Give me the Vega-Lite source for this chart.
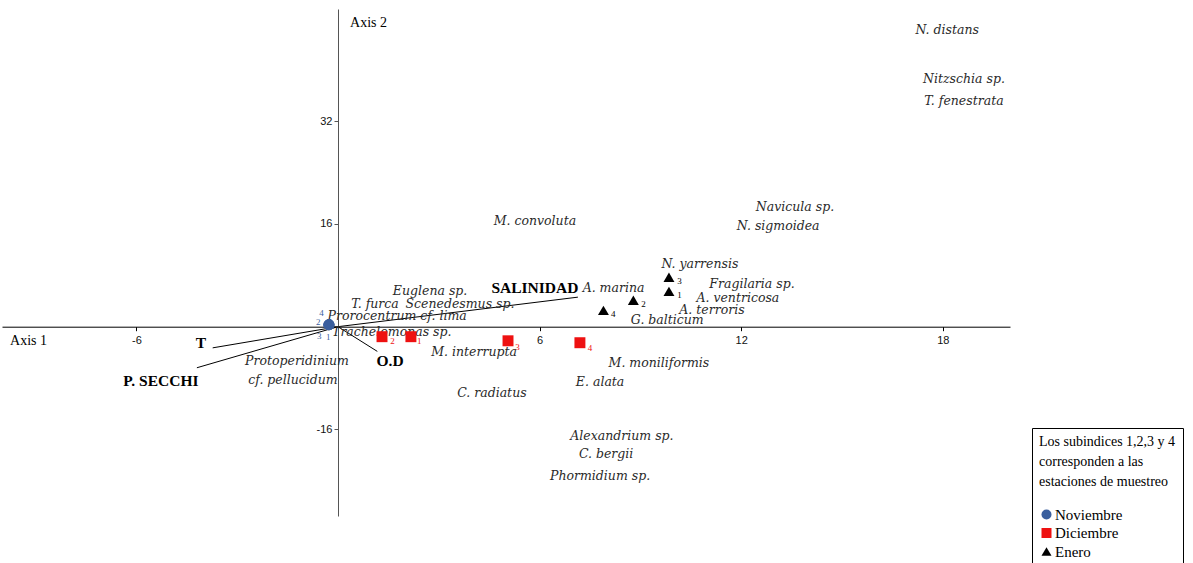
{
  "$schema": "https://vega.github.io/schema/vega-lite/v6.json",
  "width": 1008,
  "height": 507,
  "autosize": "none",
  "padding": {"left": 2, "top": 9, "right": 183, "bottom": 47},
  "background": "white",
  "config": {"view": {"stroke": null}, "font": "Liberation Serif"},
  "datasets": {
    "pts": [
      {"Mes": "Noviembre", "est": "1", "x": -0.27, "y": 0.3},
      {"Mes": "Noviembre", "est": "2", "x": -0.27, "y": 0.3},
      {"Mes": "Noviembre", "est": "3", "x": -0.27, "y": 0.3},
      {"Mes": "Noviembre", "est": "4", "x": -0.27, "y": 0.3},
      {"Mes": "Diciembre", "est": "1", "x": 2.17, "y": -1.56},
      {"Mes": "Diciembre", "est": "2", "x": 1.31, "y": -1.56},
      {"Mes": "Diciembre", "est": "3", "x": 5.06, "y": -2.2},
      {"Mes": "Diciembre", "est": "4", "x": 7.2, "y": -2.5},
      {"Mes": "Enero", "est": "1", "x": 9.85, "y": 5.5},
      {"Mes": "Enero", "est": "2", "x": 8.79, "y": 4.1},
      {"Mes": "Enero", "est": "3", "x": 9.85, "y": 7.7},
      {"Mes": "Enero", "est": "4", "x": 7.9, "y": 2.54}
    ],
    "subs": [
      {"Mes": "Noviembre", "est": "1", "x": -0.29, "y": -1.6},
      {"Mes": "Noviembre", "est": "2", "x": -0.59, "y": 0.67},
      {"Mes": "Noviembre", "est": "3", "x": -0.56, "y": -1.5},
      {"Mes": "Noviembre", "est": "4", "x": -0.49, "y": 2.13},
      {"Mes": "Diciembre", "est": "1", "x": 2.42, "y": -2.3},
      {"Mes": "Diciembre", "est": "2", "x": 1.62, "y": -2.3},
      {"Mes": "Diciembre", "est": "3", "x": 5.34, "y": -3.2},
      {"Mes": "Diciembre", "est": "4", "x": 7.5, "y": -3.4},
      {"Mes": "Enero", "est": "1", "x": 10.16, "y": 5.0},
      {"Mes": "Enero", "est": "2", "x": 9.09, "y": 3.5},
      {"Mes": "Enero", "est": "3", "x": 10.16, "y": 7.06},
      {"Mes": "Enero", "est": "4", "x": 8.19, "y": 2.0}
    ],
    "species": [
      {"name": "N. distans", "x": 18.13, "y": 46.3},
      {"name": "Nitzschia sp.", "x": 18.63, "y": 38.6},
      {"name": "T. fenestrata", "x": 18.63, "y": 35.2},
      {"name": "Navicula sp.", "x": 13.6, "y": 18.7},
      {"name": "N. sigmoidea", "x": 13.1, "y": 15.7},
      {"name": "M. convoluta", "x": 5.86, "y": 16.5},
      {"name": "N. yarrensis", "x": 10.77, "y": 9.8},
      {"name": "Fragilaria sp.", "x": 12.32, "y": 6.7},
      {"name": "A. ventricosa", "x": 11.9, "y": 4.4},
      {"name": "A. terroris", "x": 11.13, "y": 2.6},
      {"name": "G. balticum", "x": 9.8, "y": 1.1},
      {"name": "A. marina", "x": 8.2, "y": 6.1},
      {"name": "Euglena sp.", "x": 2.74, "y": 5.6},
      {"name": "T. furca", "x": 1.1, "y": 3.6},
      {"name": "Scenedesmus sp.", "x": 3.63, "y": 3.6},
      {"name": "Prorocentrum cf. lima", "x": 1.76, "y": 1.7},
      {"name": "Trachelomonas sp.", "x": 1.6, "y": -0.8},
      {"name": "M. interrupta", "x": 4.05, "y": -3.9},
      {"name": "M. moniliformis", "x": 9.55, "y": -5.6},
      {"name": "E. alata", "x": 7.8, "y": -8.6},
      {"name": "C. radiatus", "x": 4.58, "y": -10.4},
      {"name": "Alexandrium sp.", "x": 8.45, "y": -17.1},
      {"name": "C. bergii", "x": 7.98, "y": -19.8},
      {"name": "Phormidium sp.", "x": 7.8, "y": -23.2},
      {"name": "Protoperidinium", "x": -1.22, "y": -5.3},
      {"name": "cf. pellucidum", "x": -1.34, "y": -8.3}
    ],
    "arrows": [
      {"name": "SALINIDAD", "o": 0, "x": 0, "y": 0},
      {"name": "SALINIDAD", "o": 1, "x": 7.14, "y": 4.6},
      {"name": "T", "o": 0, "x": 0, "y": 0},
      {"name": "T", "o": 1, "x": -3.73, "y": -3.3},
      {"name": "P. SECCHI", "o": 0, "x": 0, "y": 0},
      {"name": "P. SECCHI", "o": 1, "x": -4.2, "y": -6.4},
      {"name": "O.D", "o": 0, "x": 0, "y": 0},
      {"name": "O.D", "o": 1, "x": 1.17, "y": -3.85}
    ],
    "env": [
      {"name": "SALINIDAD", "x": 5.86, "y": 6.1},
      {"name": "T", "x": -4.08, "y": -2.5},
      {"name": "P. SECCHI", "x": -5.27, "y": -8.4},
      {"name": "O.D", "x": 1.55, "y": -5.3}
    ],
    "axlab": [
      {"name": "Axis 1", "x": -9.76, "y": -2.3},
      {"name": "Axis 2", "x": 0.36, "y": 47.3}
    ]
  },
  "layer": [
    {
      "data": {"name": "arrows"},
      "mark": {"type": "line", "color": "#000", "strokeWidth": 1},
      "encoding": {
        "x": {"field": "x", "type": "quantitative", "scale": {"domain": [-10, 20], "nice": false, "zero": false},
          "axis": {"values": [-6, 6, 12, 18], "offset": -189.3, "title": null, "grid": false, "domainColor": "#000", "tickColor": "#000", "tickSize": 4, "labelFont": "Liberation Sans", "labelFontSize": 11, "labelColor": "#111", "labelPadding": 4, "labelExpr": "replace(datum.label, '\u2212', '-')"}},
        "y": {"field": "y", "type": "quantitative", "scale": {"domain": [-29.5, 49.5], "nice": false, "zero": false},
          "axis": {"values": [-16, 16, 32], "offset": -336, "title": null, "grid": false, "domainColor": "#555", "tickColor": "#555", "tickSize": 4, "labelFont": "Liberation Sans", "labelFontSize": 11, "labelColor": "#111", "labelPadding": 2, "labelExpr": "replace(datum.label, '\u2212', '-')"}},
        "detail": {"field": "name", "type": "nominal"},
        "order": {"field": "o", "type": "quantitative"}
      }
    },
    {
      "data": {"name": "env"},
      "mark": {"type": "text", "font": "Liberation Serif", "fontWeight": "bold", "fontSize": 15.5, "color": "#000"},
      "encoding": {
        "x": {"field": "x", "type": "quantitative"},
        "y": {"field": "y", "type": "quantitative"},
        "text": {"field": "name"}
      }
    },
    {
      "data": {"name": "species"},
      "mark": {"type": "text", "font": "DejaVu Serif", "fontStyle": "italic", "fontSize": 12.5, "color": "#2a2a2a"},
      "encoding": {
        "x": {"field": "x", "type": "quantitative"},
        "y": {"field": "y", "type": "quantitative"},
        "text": {"field": "name"}
      }
    },
    {
      "data": {"name": "axlab"},
      "mark": {"type": "text", "font": "Liberation Serif", "fontSize": 14, "color": "#000", "align": "left"},
      "encoding": {
        "x": {"field": "x", "type": "quantitative"},
        "y": {"field": "y", "type": "quantitative"},
        "text": {"field": "name"}
      }
    },
    {
      "data": {"name": "pts"},
      "mark": {"type": "point", "filled": true, "opacity": 1, "size": 120},
      "encoding": {
        "x": {"field": "x", "type": "quantitative"},
        "y": {"field": "y", "type": "quantitative"},
        "color": {"field": "Mes", "type": "nominal",
          "scale": {"domain": ["Noviembre", "Diciembre", "Enero"], "range": ["#3a5f9e", "#ee1111", "#000000"]},
          "legend": {"orient": "none", "legendX": 1030, "legendY": 419,
            "title": ["Los subindices 1,2,3 y 4", "corresponden a las", "estaciones de muestreo"],
            "titleFont": "Liberation Serif", "titleFontSize": 14, "titleFontWeight": "normal", "titleColor": "#000",
            "titleLineHeight": 20, "titlePadding": 18, "titleLimit": 300,
            "labelFont": "Liberation Serif", "labelFontSize": 15, "labelColor": "#000",
            "symbolSize": 100, "labelOffset": 1, "rowPadding": 2.5, "strokeColor": "#000", "padding": 7, "symbolStrokeWidth": 0}},
        "shape": {"field": "Mes", "type": "nominal",
          "scale": {"domain": ["Noviembre", "Diciembre", "Enero"], "range": ["circle", "square", "triangle-up"]},
          "legend": {"title": ["Los subindices 1,2,3 y 4", "corresponden a las", "estaciones de muestreo"]}}
      }
    },
    {
      "data": {"name": "subs"},
      "mark": {"type": "text", "font": "Liberation Serif", "fontSize": 9},
      "encoding": {
        "x": {"field": "x", "type": "quantitative"},
        "y": {"field": "y", "type": "quantitative"},
        "text": {"field": "est"},
        "color": {"field": "Mes", "type": "nominal", "legend": null}
      }
    }
  ]
}
